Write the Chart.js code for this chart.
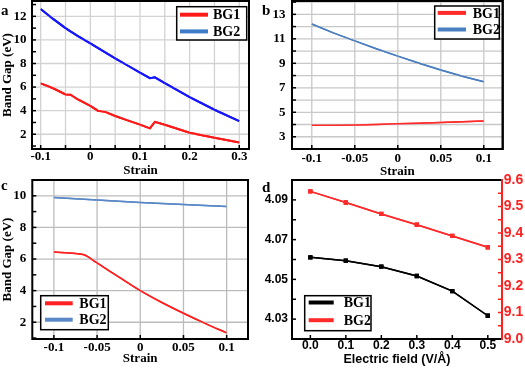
<!DOCTYPE html>
<html>
<head>
<meta charset="utf-8">
<script src="https://cdn.jsdelivr.net/npm/chart.js@4.4.1/dist/chart.umd.min.js"></script>
<style>
  body { margin: 0; background: #fff; }
  canvas { position: absolute; }
  .tag { position: absolute; font: bold 15px 'Liberation Serif', serif; line-height: 15px; }
</style>
</head>
<body>
<canvas id="chartA" width="262" height="184" style="left:0;top:0"></canvas>
<canvas id="chartB" width="263" height="184" style="left:262px;top:0"></canvas>
<canvas id="chartC" width="262" height="198" style="left:0;top:170px"></canvas>
<canvas id="chartD" width="263" height="198" style="left:262px;top:170px"></canvas>
<div class="tag" style="left:1px;top:3px">a</div>
<div class="tag" style="left:262px;top:3px">b</div>
<div class="tag" style="left:1px;top:178px">c</div>
<div class="tag" style="left:262px;top:180px">d</div>
<script>
// panel a
const strainA = [-0.1, -0.075, -0.05, -0.04, -0.025, 0, 0.015, 0.03, 0.05, 0.075, 0.1, 0.12, 0.13, 0.15, 0.2, 0.25, 0.3];
const bg1A = [6.32, 5.9, 5.38, 5.35, 4.95, 4.4, 4.0, 3.9, 3.55, 3.18, 2.82, 2.5, 3.05, 2.8, 2.13, 1.7, 1.3];
const bg2A = [12.62, 11.78, 11.0, 10.72, 10.33, 9.71, 9.33, 8.95, 8.44, 7.83, 7.22, 6.75, 6.83, 6.33, 5.14, 4.08, 3.12];
// panel b
const strainB = [-0.1, -0.075, -0.05, -0.025, 0, 0.025, 0.05, 0.075, 0.1];
const bg1B = [3.94, 3.95, 3.97, 4.01, 4.06, 4.11, 4.17, 4.22, 4.28];
const bg2B = [12.21, 11.49, 10.83, 10.19, 9.59, 9.0, 8.45, 7.95, 7.49];
// panel c
const strainC = [-0.1, -0.075, -0.065, -0.05, -0.025, 0, 0.025, 0.05, 0.075, 0.1];
const bg1C = [6.44, 6.35, 6.27, 5.75, 4.87, 4.0, 3.25, 2.57, 1.93, 1.33];
const bg2C = [9.89, 9.81, 9.78, 9.73, 9.65, 9.58, 9.51, 9.45, 9.39, 9.33];
// panel d
const fieldD = [0, 0.1, 0.2, 0.3, 0.4, 0.5];
const bg1D = [4.0611, 4.0594, 4.0564, 4.0517, 4.0441, 4.0317];
const bg2D = [9.557, 9.515, 9.472, 9.431, 9.389, 9.346];

// tick values and their labels
const tickAX = [-0.1, -0.05, 0, 0.05, 0.1, 0.15, 0.2, 0.25, 0.3];
const textAX = ['-0.1', '', '0', '', '0.1', '', '0.2', '', '0.3'];
const tickAY = [1, 2, 3, 4, 5, 6, 7, 8, 9, 10, 11, 12, 13];
const textAY = ['', '2', '', '4', '', '6', '', '8', '', '10', '', '12', ''];
const tickBX = [-0.1, -0.05, 0, 0.05, 0.1];
const textBX = ['-0.1', '-0.05', '0', '0.05', '0.1'];
const tickBY = [3, 4, 5, 6, 7, 8, 9, 10, 11, 12, 13, 14];
const textBY = ['3', '', '5', '', '7', '', '9', '', '11', '', '13', ''];
const tickCX = [-0.1, -0.05, 0, 0.05, 0.1];
const textCX = ['-0.1', '-0.05', '0', '0.05', '0.1'];
const tickCY = [1, 2, 3, 4, 5, 6, 7, 8, 9, 10, 11];
const textCY = ['', '2', '', '4', '', '6', '', '8', '', '10', ''];
const tickDX = [0, 0.1, 0.2, 0.3, 0.4, 0.5];
const textDX = ['0.0', '0.1', '0.2', '0.3', '0.4', '0.5'];
const tickDY = [4.02, 4.03, 4.04, 4.05, 4.06, 4.07, 4.08, 4.09, 4.10];
const textDY = ['', '4.03', '', '4.05', '', '4.07', '', '4.09', ''];
const tickDY2 = [9.0, 9.05, 9.1, 9.15, 9.2, 9.25, 9.3, 9.35, 9.4, 9.45, 9.5, 9.55, 9.6];
const textDY2 = ['9.0', '', '9.1', '', '9.2', '', '9.3', '', '9.4', '', '9.5', '', '9.6'];

const SERIF = "'Liberation Serif', 'Times New Roman', serif";
const SANS = "'Liberation Sans', Arial, sans-serif";

// per chart: grid, inward ticks, frame and legend box
const decor = {
  chartA: {
    axes: [
      { id: 'x', ticks: tickAX, text: textAX, grid: '#d2d2d2', all: true },
      { id: 'y', ticks: tickAY, text: textAY, grid: '#d2d2d2' }
    ],
    legend: { corner: 'tr', dx: 2.3, dy: 5.7, w: 70, h: 33.3, lx: 3.3, lw: 28, tx: 36.3, row0: 8, gap: 16.7 }
  },
  chartB: {
    axes: [
      { id: 'x', ticks: tickBX, text: textBX, grid: '#c8c8c8', all: true },
      { id: 'y', ticks: tickBY, text: textBY, grid: '#c8c8c8', all: true }
    ],
    legend: { corner: 'tr', dx: 3.4, dy: 5, w: 64.6, h: 33, lx: 3, lw: 28.3, tx: 38, row0: 6.9, gap: 16.6 }
  },
  chartC: {
    axes: [
      { id: 'x', ticks: tickCX, text: textCX, grid: '#bcbcbc', all: true },
      { id: 'y', ticks: tickCY, text: textCY, grid: '#bcbcbc' }
    ],
    legend: { corner: 'bl', dx: 8.4, dy: 9.3, w: 67.6, h: 34, lx: 4.3, lw: 27.7, tx: 38.6, row0: 7.6, gap: 16.4 }
  },
  chartD: {
    axes: [
      { id: 'x', ticks: tickDX, text: textDX },
      { id: 'y', ticks: tickDY, text: textDY },
      { id: 'y2', ticks: tickDY2, text: textDY2, tick: '#ff2020' }
    ],
    right: '#ff2020',
    legend: { corner: 'bl', dx: 12.7, dy: 8.3, w: 66.3, h: 35, lx: 4, lw: 25, tx: 39, row0: 6.8, gap: 17.7 }
  }
};

function line(ctx, x1, y1, x2, y2) {
  ctx.beginPath();
  ctx.moveTo(x1, y1);
  ctx.lineTo(x2, y2);
  ctx.stroke();
}

const panelDecor = {
  id: 'panelDecor',
  afterDraw(chart) {
    const spec = decor[chart.canvas.id];
    const { ctx, chartArea: a } = chart;
    ctx.save();
    ctx.setLineDash([]);
    ctx.lineCap = 'butt';
    // grid lines
    spec.axes.forEach(ax => {
      if (!ax.grid) return;
      const s = chart.scales[ax.id];
      ctx.strokeStyle = ax.grid;
      ctx.lineWidth = 1.3;
      ax.ticks.forEach((v, i) => {
        if (!ax.all && !ax.text[i]) return;
        const p = s.getPixelForValue(v);
        if (s.isHorizontal()) line(ctx, p, a.top, p, a.bottom);
        else line(ctx, a.left, p, a.right, p);
      });
    });
    // series again on top of the grid
    const metas = chart.getSortedVisibleDatasetMetas();
    for (let i = metas.length - 1; i >= 0; i--) metas[i].controller.draw();
    // inward tick marks
    spec.axes.forEach(ax => {
      const s = chart.scales[ax.id];
      ctx.strokeStyle = ax.tick || '#000';
      ctx.lineWidth = 1.5;
      ax.ticks.forEach(v => {
        const p = s.getPixelForValue(v);
        if (s.isHorizontal()) line(ctx, p, a.bottom, p, a.bottom - 4);
        else if (s.position === 'right') line(ctx, a.right, p, a.right - 4, p);
        else line(ctx, a.left, p, a.left + 4, p);
      });
    });
    // frame
    ctx.lineWidth = 2;
    ctx.strokeStyle = '#000';
    ctx.strokeRect(a.left, a.top, a.right - a.left, a.bottom - a.top);
    ctx.strokeStyle = spec.right || '#000';
    line(ctx, a.right, a.top - 1, a.right, a.bottom + 1);
    // legend box
    const o = spec.legend;
    const x = o.corner === 'tr' ? a.right - o.dx - o.w : a.left + o.dx;
    const y = o.corner === 'tr' ? a.top + o.dy : a.bottom - o.dy - o.h;
    ctx.fillStyle = '#fff';
    ctx.fillRect(x, y, o.w, o.h);
    ctx.lineWidth = 1.5;
    ctx.strokeStyle = '#000';
    ctx.strokeRect(x, y, o.w, o.h);
    ctx.font = 'bold 14px ' + SERIF;
    ctx.textBaseline = 'middle';
    chart.data.datasets.forEach((ds, i) => {
      const ry = y + o.row0 + i * o.gap;
      ctx.strokeStyle = ds.keyColor || ds.borderColor;
      ctx.lineWidth = 4;
      line(ctx, x + o.lx, ry, x + o.lx + o.lw, ry);
      ctx.fillStyle = '#000';
      ctx.fillText(ds.label, x + o.tx, ry + 1);
    });
    ctx.restore();
  }
};

function axis(c) {
  return {
    type: 'linear',
    position: c.pos,
    min: c.min,
    max: c.max,
    afterBuildTicks: s => { s.ticks = c.ticks.map(v => ({ value: v })); },
    afterFit: s => {
      if (s.isHorizontal()) s.height = c.size; else s.width = c.size;
      s.paddingLeft = 0; s.paddingRight = 0; s.paddingTop = 0; s.paddingBottom = 0;
    },
    border: { display: false },
    grid: { display: false, tickLength: -4 },
    ticks: {
      autoSkip: false,
      maxRotation: 0,
      padding: c.pad,
      color: c.color || '#000',
      font: c.font || { family: SERIF, size: 13, weight: 'bold' },
      callback: (v, i) => c.text[i]
    },
    title: c.title ? {
      display: true,
      text: c.title,
      color: '#000',
      font: c.titleFont || { family: SERIF, size: 13, weight: 'bold' },
      padding: c.titlePad
    } : { display: false }
  };
}

function pts(xs, ys) {
  return xs.map((x, i) => ({ x: x, y: ys[i] }));
}

function baseOptions(padding, scales) {
  return {
    responsive: false,
    animation: false,
    layout: { padding: padding, autoPadding: false },
    scales: scales,
    elements: { point: { radius: 0 } },
    plugins: { legend: { display: false }, tooltip: { enabled: false } }
  };
}

// software-backed 2d contexts, then read a pixel back after drawing
function canvasFor(id) {
  const el = document.getElementById(id);
  el.getContext('2d', { willReadFrequently: true });
  return el;
}
function settle(chart) {
  chart.ctx.getImageData(0, 0, 1, 1);
  return chart;
}

settle(new Chart(canvasFor('chartA'), {
  type: 'line',
  data: {
    datasets: [
      { label: 'BG1', data: pts(strainA, bg1A), borderColor: '#ff1a1a', borderWidth: 2 },
      { label: 'BG2', data: pts(strainA, bg2A), borderColor: '#1616ff', keyColor: '#3d7cc9', borderWidth: 2 }
    ]
  },
  options: baseOptions({ top: 1, right: 13, left: 0, bottom: 0 }, {
    x: axis({ pos: 'bottom', min: -0.1175, max: 0.3196, ticks: tickAX, text: textAX, size: 35, pad: 4, title: 'Strain', titlePad: { top: 0, bottom: 6 } }),
    y: axis({ pos: 'left', min: 0.75, max: 13.3, ticks: tickAY, text: textAY, size: 32, pad: 9.5, title: 'Band Gap (eV)', titlePad: { top: 0, bottom: 0 } })
  }),
  plugins: [panelDecor]
}));

settle(new Chart(canvasFor('chartB'), {
  type: 'line',
  data: {
    datasets: [
      { label: 'BG1', data: pts(strainB, bg1B), borderColor: '#ff2b2b', borderWidth: 1.5 },
      { label: 'BG2', data: pts(strainB, bg2B), borderColor: '#4a7fc1', borderWidth: 1.5 }
    ]
  },
  options: baseOptions({ top: 1, right: 22.3, left: 0, bottom: 0 }, {
    x: axis({ pos: 'bottom', min: -0.123, max: 0.122, ticks: tickBX, text: textBX, size: 35, pad: 6, title: 'Strain', titlePad: { top: 0, bottom: 4.5 } }),
    y: axis({ pos: 'left', min: 2.0, max: 14.09, ticks: tickBY, text: textBY, size: 30, pad: 10.5 })
  }),
  plugins: [panelDecor]
}));

settle(new Chart(canvasFor('chartC'), {
  type: 'line',
  data: {
    datasets: [
      { label: 'BG1', data: pts(strainC, bg1C), borderColor: '#ff2020', borderWidth: 1.5, cubicInterpolationMode: 'monotone' },
      { label: 'BG2', data: pts(strainC, bg2C), borderColor: '#5a88c6', borderWidth: 1.5 }
    ]
  },
  options: baseOptions({ top: 10, right: 14, left: 0, bottom: 0 }, {
    x: axis({ pos: 'bottom', min: -0.125, max: 0.1247, ticks: tickCX, text: textCX, size: 29, pad: 5, title: 'Strain', titlePad: { top: 0, bottom: 1.2 } }),
    y: axis({ pos: 'left', min: 0.94, max: 11.0, ticks: tickCY, text: textCY, size: 32.3, pad: 10, title: 'Band Gap (eV)', titlePad: { top: 0, bottom: 0 } })
  }),
  plugins: [panelDecor]
}));

settle(new Chart(canvasFor('chartD'), {
  type: 'line',
  data: {
    datasets: [
      { label: 'BG1', data: pts(fieldD, bg1D), yAxisID: 'y', borderColor: '#000', backgroundColor: '#000', borderWidth: 1.5, pointRadius: 2, pointStyle: 'rect' },
      { label: 'BG2', data: pts(fieldD, bg2D), yAxisID: 'y2', borderColor: '#ff2a2a', backgroundColor: '#ff2a2a', borderWidth: 1.5, pointRadius: 2, pointStyle: 'rect' }
    ]
  },
  options: baseOptions({ top: 10, right: 0, left: 0, bottom: 0 }, {
    x: axis({ pos: 'bottom', min: -0.0517, max: 0.540, ticks: tickDX, text: textDX, size: 29, pad: 3.5,
      font: { family: SANS, size: 12, weight: 'bold' }, title: 'Electric field (V/Å)',
      titleFont: { family: SANS, size: 12.5, weight: 'bold' }, titlePad: { top: 0, bottom: 0.5 } }),
    y: axis({ pos: 'left', min: 4.02, max: 4.10, ticks: tickDY, text: textDY, size: 30, pad: 8,
      font: { family: SANS, size: 12, weight: 'bold' } }),
    y2: axis({ pos: 'right', min: 9.0, max: 9.6, ticks: tickDY2, text: textDY2, size: 23, pad: 5.7,
      color: '#ff2020', font: { family: SANS, size: 14, weight: 'bold' } })
  }),
  plugins: [panelDecor]
}));
</script>
</body>
</html>
